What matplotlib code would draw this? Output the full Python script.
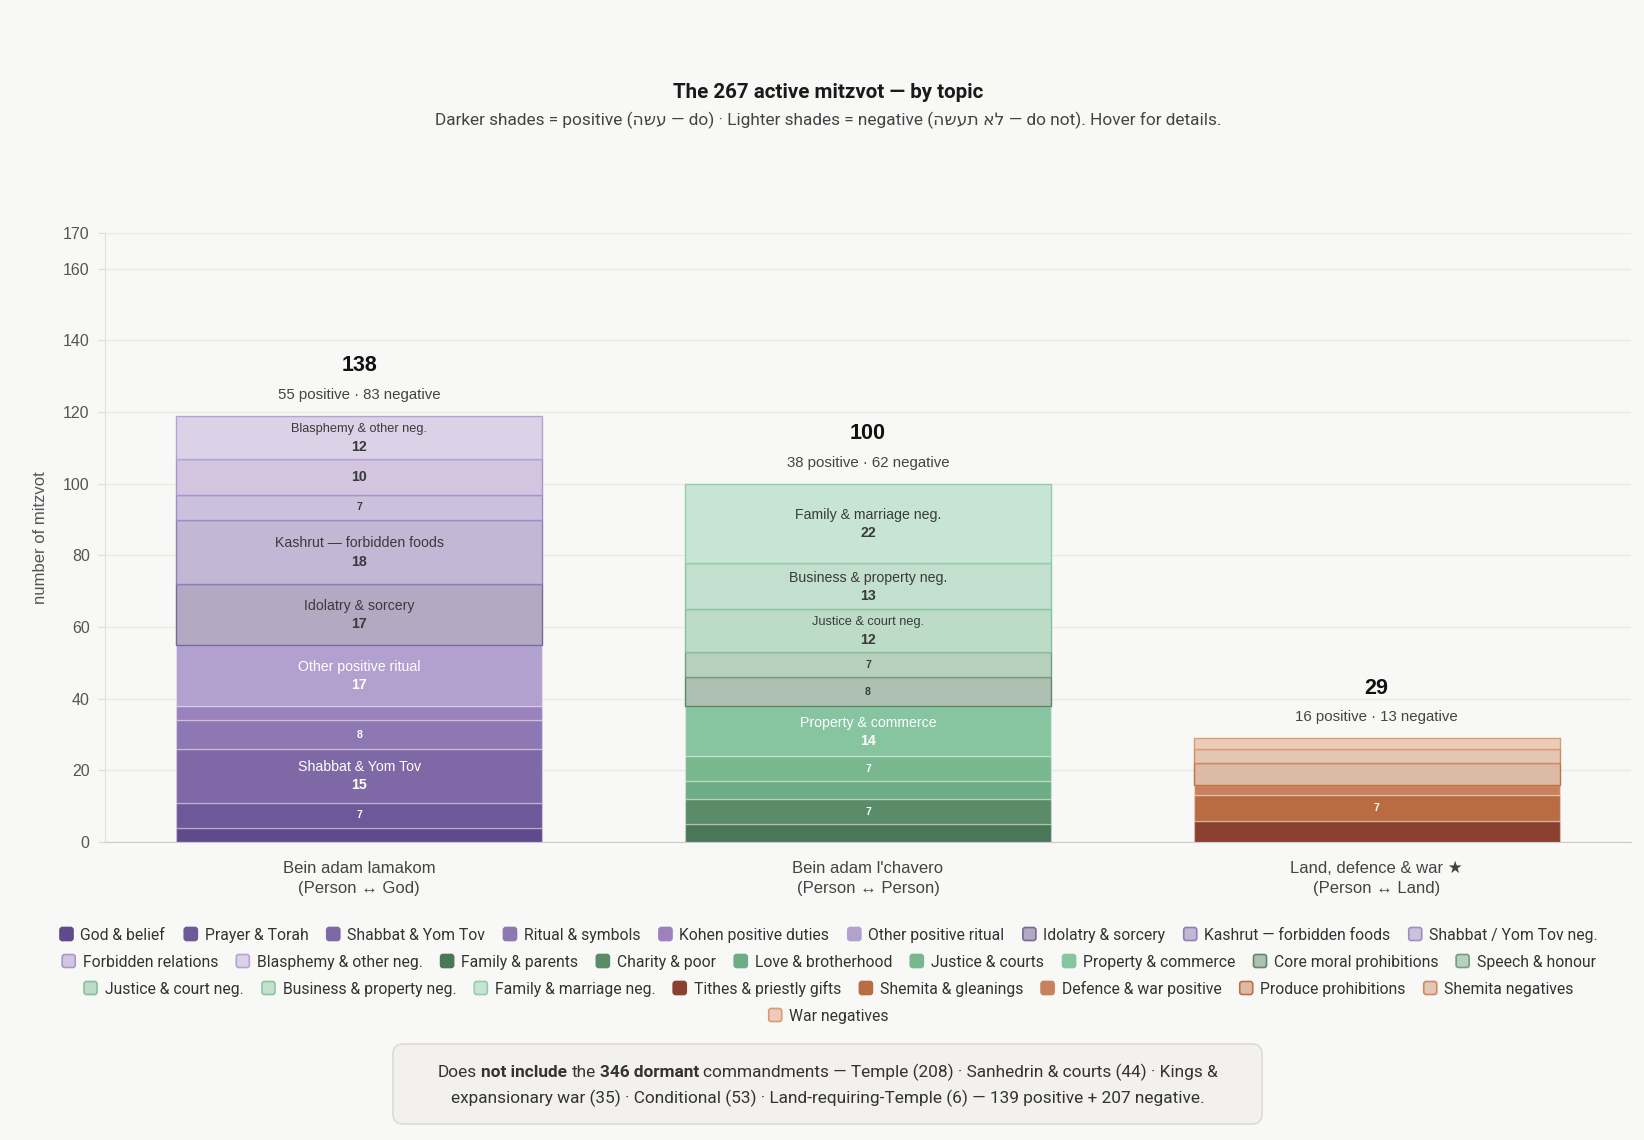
import matplotlib
matplotlib.use("Agg")
import matplotlib.pyplot as plt
from matplotlib.patches import FancyBboxPatch

# ---------------- data ----------------
categories = ["Bein adam lamakom\n(Person \u2194 God)",
              "Bein adam l'chavero\n(Person \u2194 Person)",
              "Land, defence & war \u2605\n(Person \u2194 Land)"]
totals = [138, 100, 29]
positive_counts = [55, 38, 16]
negative_counts = [83, 62, 13]

god_names = ["God & belief", "Prayer & Torah", "Shabbat & Yom Tov", "Ritual & symbols",
             "Kohen positive duties", "Other positive ritual",
             "Idolatry & sorcery", "Kashrut \u2014 forbidden foods", "Shabbat / Yom Tov neg.",
             "Forbidden relations", "Blasphemy & other neg."]
god_values = [4, 7, 15, 8, 4, 17, 17, 18, 7, 10, 12]
god_kinds = ["pos", "pos", "pos", "pos", "pos", "pos", "neg", "neg", "neg", "neg", "neg"]

chav_names = ["Family & parents", "Charity & poor", "Love & brotherhood", "Justice & courts",
              "Property & commerce", "Core moral prohibitions", "Speech & honour",
              "Justice & court neg.", "Business & property neg.", "Family & marriage neg."]
chav_values = [5, 7, 5, 7, 14, 8, 7, 12, 13, 22]
chav_kinds = ["pos", "pos", "pos", "pos", "pos", "neg", "neg", "neg", "neg", "neg"]

land_names = ["Tithes & priestly gifts", "Shemita & gleanings", "Defence & war positive",
              "Produce prohibitions", "Shemita negatives", "War negatives"]
land_values = [6, 7, 3, 6, 4, 3]
land_kinds = ["pos", "pos", "pos", "neg", "neg", "neg"]

y_ticks = [0, 20, 40, 60, 80, 100, 120, 140, 160, 170]

title = "The 267 active mitzvot \u2014 by topic"
heb_pos = "\u05e2\u05e9\u05d4"                       # עשה
heb_neg = "\u05dc\u05d0 \u05ea\u05e2\u05e9\u05d4"      # לא תעשה
footer_line1 = [("Does", "normal"), ("not include", "bold"), ("the", "normal"),
                ("346 dormant", "bold"),
                ("commandments \u2014 Temple (208) \u00b7 Sanhedrin & courts (44) \u00b7 Kings &", "normal")]
footer_line2 = [("expansionary war (35) \u00b7 Conditional (53) \u00b7 Land-requiring-Temple (6) \u2014 139 positive + 207 negative.", "normal")]

# ---------------- styles ----------------
god_colors = ["#5f4b8b", "#6d5899", "#7e68a6", "#8d78b3", "#9b82bd", "#b2a0cf",
              "#b3a9c3", "#c2b8d5", "#cbc1dd", "#d3c4e0", "#dcd2e8"]
god_edges = [None] * 6 + ["#776a9a", "#8e80b5", "#9d8fc5", "#a896cb", "#b3a4d4"]
chav_colors = ["#4a7757", "#5a8c69", "#6cad85", "#79b78f", "#87c5a1",
               "#adc0b1", "#b7cfbd", "#bddcc8", "#c3dfcd", "#c8e4d4"]
chav_edges = [None] * 5 + ["#5e876a", "#6f9f7c", "#86c09b", "#8dc7a2", "#93cca9"]
land_colors = ["#8b4130", "#b96c42", "#c9815d", "#dcbba6", "#e3c6b3", "#ecccb8"]
land_edges = [None] * 3 + ["#c2703f", "#d08a63", "#dc9a74"]

BG = "#f8f8f6"
CHART_FONT = ["Liberation Sans", "DejaVu Sans"]
UI_FONT = ["Roboto", "DejaVu Sans"]

W, H = 1644, 1140
fig = plt.figure(figsize=(W / 100, H / 100), dpi=100, facecolor=BG)

# overlay axes in pixel coordinates for title, legend and footer
ov = fig.add_axes([0, 0, 1, 1])
ov.set_xlim(0, W)
ov.set_ylim(H, 0)
ov.axis("off")

# main chart axes
ax_left, ax_right, ax_top, ax_bottom = 105, 1631, 233, 842
ax = fig.add_axes([ax_left / W, 1 - ax_bottom / H, (ax_right - ax_left) / W, (ax_bottom - ax_top) / H])
ax.set_facecolor("none")
ax.set_xlim(-0.5, 2.5)
ax.set_ylim(0, 170)
ax.set_yticks(y_ticks)
ax.set_yticklabels([str(t) for t in y_ticks], fontsize=11.5, color="#555555", family=CHART_FONT)
ax.tick_params(axis="y", length=5, color="#dddddd", pad=6)
ax.set_xticks([0, 1, 2])
ax.set_xticklabels(categories, fontsize=12, color="#444444", family=CHART_FONT, linespacing=1.4)
ax.tick_params(axis="x", length=0, pad=14)
ax.grid(axis="y", color="#e9e9e6", linewidth=1, zorder=0)
ax.set_axisbelow(True)
for s in ["top", "right"]:
    ax.spines[s].set_visible(False)
ax.spines["left"].set_color("#e0e0e0")
ax.spines["bottom"].set_color("#cccccc")
ax.set_ylabel("number of mitzvot", fontsize=12, color="#555555", family=CHART_FONT, labelpad=11)

groups = [
    (god_names, god_values, god_kinds, god_colors, god_edges),
    (chav_names, chav_values, chav_kinds, chav_colors, chav_edges),
    (land_names, land_values, land_kinds, land_colors, land_edges),
]

for gi, (names, vals, kinds, cols, edges) in enumerate(groups):
    bottom = 0
    for n, v, k, c, e in zip(names, vals, kinds, cols, edges):
        ec = e if e is not None else (1, 1, 1, 0.3)
        ax.bar(gi, v, bottom=bottom, width=0.72, color=c, edgecolor=ec, linewidth=1.0, zorder=3)
        mid = bottom + v / 2
        tc = "white" if k == "pos" else "#3a3a3a"
        if v >= 12:
            nfs = 10.2 if v >= 13 else 9.2
            ax.annotate(n, (gi, mid), xytext=(0, 6), textcoords="offset points", ha="center",
                        va="center", fontsize=nfs, color=tc, family=CHART_FONT, zorder=5)
            ax.annotate(str(v), (gi, mid), xytext=(0, -7), textcoords="offset points", ha="center",
                        va="center", fontsize=10.2, color=tc, fontweight="bold", family=CHART_FONT, zorder=5)
        elif v >= 10:
            ax.annotate(str(v), (gi, mid), xytext=(0, 0), textcoords="offset points", ha="center",
                        va="center", fontsize=10.2, color=tc, fontweight="bold", family=CHART_FONT, zorder=5)
        elif v >= 7:
            ax.annotate(str(v), (gi, mid), xytext=(0, 0), textcoords="offset points", ha="center",
                        va="center", fontsize=7.5, color=tc, fontweight="bold", family=CHART_FONT, zorder=5)
        bottom += v
    top = bottom
    ax.annotate(str(totals[gi]), (gi, top), xytext=(0, 36), textcoords="offset points", ha="center",
                va="center", fontsize=15.5, fontweight="bold", color="#111111", family=CHART_FONT)
    ax.annotate(f"{positive_counts[gi]} positive \u00b7 {negative_counts[gi]} negative", (gi, top),
                xytext=(0, 15), textcoords="offset points", ha="center", va="center",
                fontsize=10.8, color="#444444", family=CHART_FONT)

CX = 828
# title & subtitle
ov.text(CX, 93, title, ha="center", va="center", fontsize=14.8, fontweight="semibold",
        color="#1a1a1a", family=UI_FONT)
subtitle = ("Darker shades = positive (" + heb_pos[::-1] + " \u2014 do) \u00b7 Lighter shades = negative ("
            + heb_neg[::-1] + " \u2014 do not). Hover for details.")
ov.text(CX, 120, subtitle, ha="center", va="center", fontsize=12.4, color="#444444", family=UI_FONT)

renderer = fig.canvas.get_renderer()

def text_width(s, **kw):
    t = ov.text(0, 0, s, **kw)
    w = t.get_window_extent(renderer).width
    t.remove()
    return w

# legend (flow layout)
leg_names = god_names + chav_names + land_names
leg_colors = god_colors + chav_colors + land_colors
leg_edges = god_edges + chav_edges + land_edges
row_sizes = [9, 9, 8, 1]
row_y = [934, 961, 988, 1015]
LEG_FS = 11
sw, gap, spacing = 14, 7, 19
widths = [text_width(n, fontsize=LEG_FS, family=UI_FONT) for n in leg_names]
# fit first row to reference width
row1_text = sum(widths[:9])
fixed = (sw + gap) * 9 + spacing * 8
scale = (1537 - fixed) / row1_text
fs = LEG_FS * scale
widths = [w * scale for w in widths]
base_off = fs * 100 / 72 * 0.36
idx = 0
for rs, ry in zip(row_sizes, row_y):
    items = list(range(idx, idx + rs))
    rw = sum(sw + gap + widths[i] for i in items) + spacing * (rs - 1)
    x = CX - rw / 2
    for i in items:
        ec = leg_edges[i] if leg_edges[i] is not None else leg_colors[i]
        ov.add_patch(FancyBboxPatch((x + 0.5, ry - sw / 2 + 0.5), sw - 1, sw - 1,
                                    boxstyle="round,pad=0,rounding_size=2.5",
                                    facecolor=leg_colors[i], edgecolor=ec, linewidth=1.2))
        ov.text(x + sw + gap, ry + base_off, leg_names[i], ha="left", va="baseline", fontsize=fs,
                color="#333333", family=UI_FONT)
        x += sw + gap + widths[i] + spacing
    idx += rs

# footer box
ov.add_patch(FancyBboxPatch((393, 1044), 869, 80, boxstyle="round,pad=0,rounding_size=10",
                            facecolor="#f2f1ed", edgecolor="#dcdbd5", linewidth=1.2))
FFS = 12.4
space_w = text_width("a a", fontsize=FFS, family=UI_FONT) - text_width("aa", fontsize=FFS, family=UI_FONT)
f_off = FFS * 100 / 72 * 0.36

def draw_line(pieces, y):
    ws = [text_width(p, fontsize=FFS, fontweight=wt, family=UI_FONT) for p, wt in pieces]
    total = sum(ws) + space_w * (len(pieces) - 1)
    x = CX - total / 2
    for (p, wt), w in zip(pieces, ws):
        ov.text(x, y + f_off, p, ha="left", va="baseline", fontsize=FFS, fontweight=wt,
                color="#333333", family=UI_FONT)
        x += w + space_w

draw_line(footer_line1, 1071)
draw_line(footer_line2, 1097)

fig.savefig("out.png", dpi=100, facecolor=BG)
